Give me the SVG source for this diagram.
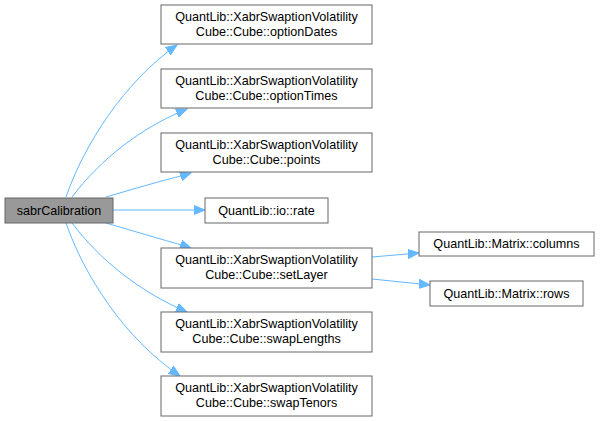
<svg xmlns="http://www.w3.org/2000/svg" width="600" height="421" viewBox="0 0 600 421">
<style>
.n rect{fill:#fff;stroke:#666;stroke-width:1}
.n text{font-family:"Liberation Sans",Arial,sans-serif;font-size:12.6px;fill:#000;text-anchor:middle}
#main rect{fill:#999}
.e path{fill:none;stroke:#63b8ff;stroke-width:1}
</style>
<defs>
<marker id="ah" markerUnits="userSpaceOnUse" markerWidth="12" markerHeight="10" refX="11" refY="5" orient="auto">
<polygon points="0,0.5 11,5 0,9.5" fill="#63b8ff" stroke="#63b8ff"/>
</marker>
</defs>
<rect width="600" height="421" fill="#fff"/>
<g class="e" id="edges">
<path d="M66,197 C84,145 124,82 177,45" marker-end="url(#ah)"/>
<path d="M72,197 C100,160 140,128 187,109" marker-end="url(#ah)"/>
<path d="M106,197 C130,190 160,181 185,175 L191,173" marker-end="url(#ah)"/>
<path d="M113,210 L205,210" marker-end="url(#ah)"/>
<path d="M106,223 C130,230 160,239 185,246 L191,248" marker-end="url(#ah)"/>
<path d="M72,223 C100,260 140,292 187,312" marker-end="url(#ah)"/>
<path d="M66,223 C84,275 124,338 180,376" marker-end="url(#ah)"/>
<path d="M372,257 L419,253" marker-end="url(#ah)"/>
<path d="M372,279 L430,285" marker-end="url(#ah)"/>
</g>
<g class="n" id="main"><rect x="5" y="198" width="108" height="25"/><text x="59" y="215">sabrCalibration</text></g>
<g class="n" id="optionDates"><rect x="161" y="5" width="211" height="39"/><text x="266.5" y="21">QuantLib::XabrSwaptionVolatility</text><text x="266.5" y="36">Cube::Cube::optionDates</text></g>
<g class="n" id="optionTimes"><rect x="161" y="69" width="211" height="39"/><text x="266.5" y="85">QuantLib::XabrSwaptionVolatility</text><text x="266.5" y="100">Cube::Cube::optionTimes</text></g>
<g class="n" id="points"><rect x="161" y="133" width="211" height="39"/><text x="266.5" y="149">QuantLib::XabrSwaptionVolatility</text><text x="266.5" y="164">Cube::Cube::points</text></g>
<g class="n" id="rate"><rect x="205" y="198" width="123" height="25"/><text x="266.5" y="215">QuantLib::io::rate</text></g>
<g class="n" id="setLayer"><rect x="161" y="248" width="211" height="40"/><text x="266.5" y="264">QuantLib::XabrSwaptionVolatility</text><text x="266.5" y="279">Cube::Cube::setLayer</text></g>
<g class="n" id="swapLengths"><rect x="161" y="312" width="211" height="40"/><text x="266.5" y="328">QuantLib::XabrSwaptionVolatility</text><text x="266.5" y="343">Cube::Cube::swapLengths</text></g>
<g class="n" id="swapTenors"><rect x="161" y="376" width="211" height="40"/><text x="266.5" y="392">QuantLib::XabrSwaptionVolatility</text><text x="266.5" y="407">Cube::Cube::swapTenors</text></g>
<g class="n" id="columns"><rect x="419" y="232" width="175" height="24"/><text x="506.5" y="248">QuantLib::Matrix::columns</text></g>
<g class="n" id="rows"><rect x="430" y="281" width="153" height="25"/><text x="506.5" y="298">QuantLib::Matrix::rows</text></g>
</svg>
